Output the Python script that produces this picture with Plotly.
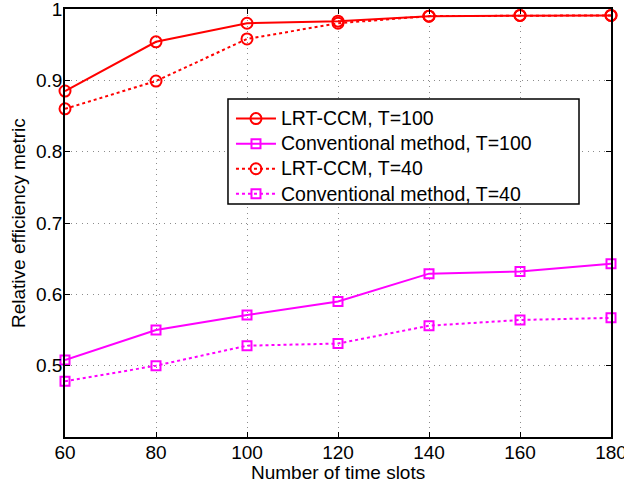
import plotly.graph_objects as go

x_slots = [60, 80, 100, 120, 140, 160, 180]
lrt_t100 = [0.885, 0.954, 0.980, 0.983, 0.990, 0.991, 0.991]
conv_t100 = [0.508, 0.550, 0.571, 0.590, 0.629, 0.632, 0.643]
lrt_t40 = [0.860, 0.899, 0.958, 0.980, 0.990, 0.991, 0.991]
conv_t40 = [0.478, 0.500, 0.528, 0.531, 0.556, 0.564, 0.567]

x_ticks = [60, 80, 100, 120, 140, 160, 180]
y_ticks = [0.5, 0.6, 0.7, 0.8, 0.9, 1.0]
y_labels = ["0.5", "0.6", "0.7", "0.8", "0.9", "1"]

RED = "#ff0000"
MAG = "#ff00ff"
FONT = "Liberation Sans, Arial, Helvetica, sans-serif"

fig = go.Figure()
series = [
    ("LRT-CCM, T=100", lrt_t100, RED, "solid", "circle-open", 11),
    ("Conventional method, T=100", conv_t100, MAG, "solid", "square-open", 9),
    ("LRT-CCM, T=40", lrt_t40, RED, "dot", "circle-open", 11),
    ("Conventional method, T=40", conv_t40, MAG, "dot", "square-open", 9),
]
for name, ys, col, dash, sym, sz in series:
    fig.add_trace(go.Scatter(
        x=x_slots, y=ys, name='<span style="font-size:19.5px">' + name + '</span>',
        mode="lines+markers",
        line=dict(color=col, width=2, dash=dash),
        marker=dict(symbol=sym, size=sz, color=col, line=dict(color=col, width=2)),
        cliponaxis=False,
    ))

axis_common = dict(
    showline=True, linecolor="black", linewidth=1.5, mirror="ticks",
    ticks="inside", ticklen=5, tickcolor="black",
    showgrid=True, gridcolor="#8c8c8c", griddash="1px,4.5px", gridwidth=1,
    zeroline=False, tickfont=dict(size=19, color="black"),
    automargin=False, ticklabeloverflow="allow", ticklabelstandoff=-3,
)

fig.update_layout(
    width=624, height=490,
    margin=dict(l=65, r=13, t=9, b=53),
    paper_bgcolor="white", plot_bgcolor="white",
    font=dict(family=FONT, size=19, color="black"),
    showlegend=True,
    legend=dict(
        x=0.304, y=0.785, xanchor="left", yanchor="top",
        bgcolor="rgba(0,0,0,0)", borderwidth=0,
        font=dict(size=17, family=FONT), tracegroupgap=0, itemwidth=40,
    ),
    xaxis=dict(range=[60, 180], tickvals=x_ticks, **axis_common),
    yaxis=dict(range=[0.4, 1.0], tickvals=y_ticks, ticktext=y_labels, **axis_common),
    shapes=[dict(type="rect", xref="paper", yref="paper",
                 x0=0.2985, x1=0.9414, y0=0.5444, y1=0.7897,
                 fillcolor="white", line=dict(color="black", width=1.5),
                 layer="above")],
    annotations=[
        dict(text="Number of time slots", xref="paper", yref="paper",
             x=0.5, y=-0.084, xanchor="center", yanchor="middle",
             showarrow=False, font=dict(size=19)),
        dict(text="Relative efficiency metric", xref="paper", yref="paper",
             x=-0.086, y=0.5, xanchor="center", yanchor="middle",
             textangle=-90, showarrow=False, font=dict(size=19)),
    ],
)

fig.write_html("out.html", config={"displayModeBar": False},
               post_script="document.body.style.margin='0';")
